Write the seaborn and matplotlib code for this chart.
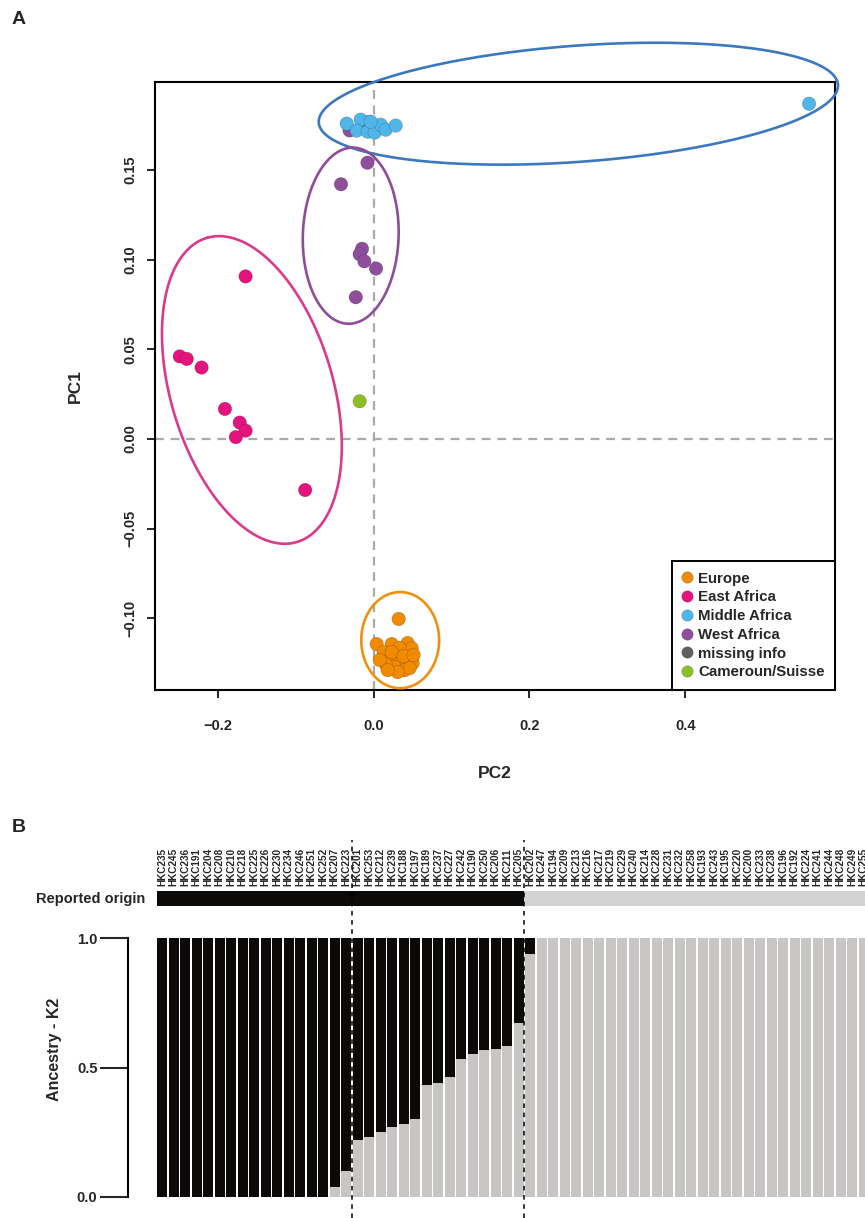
import numpy as np
import pandas as pd
import matplotlib
matplotlib.use("Agg")
import matplotlib.pyplot as plt
import seaborn as sns

# ---------------- data : panel A (PCA) ----------------
groups = ["Europe", "East Africa", "Middle Africa", "West Africa", "missing info", "Cameroun/Suisse"]
group_colors = ["#F08A00", "#E5137D", "#50B5E9", "#8E4E9C", "#5F5F5F", "#8CBF26"]

europe_pc2 = [0.0321, 0.0038, 0.0231, 0.0436, 0.0128, 0.0205, 0.0295, 0.0359, 0.0449, 0.0487,
              0.0269, 0.0154, 0.0397, 0.0500, 0.0333, 0.0231, 0.0077, 0.0462, 0.0308, 0.0179,
              0.0385, 0.0513]
europe_pc1 = [-0.1004, -0.1144, -0.1144, -0.1138, -0.1189, -0.1233, -0.1200, -0.1244, -0.1205, -0.1166,
              -0.1272, -0.1256, -0.1289, -0.1250, -0.1166, -0.1189, -0.1233, -0.1278, -0.1300, -0.1289,
              -0.1211, -0.1205]
east_pc2 = [-0.1645, -0.249, -0.240, -0.221, -0.191, -0.172, -0.1645, -0.177, -0.088]
east_pc1 = [0.0906, 0.046, 0.0446, 0.0398, 0.0167, 0.0091, 0.0046, 0.001, -0.0285]
middle_pc2 = [-0.0346, -0.0167, -0.0218, -0.0077, 0.0013, 0.0090, -0.0038, 0.0154, 0.0282, 0.559]
middle_pc1 = [0.1758, 0.1780, 0.1719, 0.1713, 0.1708, 0.1752, 0.1769, 0.1724, 0.1747, 0.1869]
west_pc2 = [-0.031, -0.008, -0.042, -0.015, -0.018, -0.012, 0.003, -0.023]
west_pc1 = [0.172, 0.154, 0.142, 0.106, 0.103, 0.099, 0.095, 0.079]
missing_pc2 = [-0.008]
missing_pc1 = [0.1765]
cameroun_pc2 = [-0.018]
cameroun_pc1 = [0.021]

# ellipses: centre, first and second half-axis vectors (data units)
ellipse_groups = ["Middle Africa", "West Africa", "East Africa", "Europe"]
ellipse_colors = ["#3B78BF", "#8F4C9C", "#DA3A8C", "#F0900F"]
ellipse_center = [(0.2628, 0.1869), (-0.0295, 0.1133), (-0.1564, 0.0273), (0.034, -0.1122)]
ellipse_axis1 = [(0.3333, 0.0106), (0.0026, 0.0491), (-0.0577, 0.0848), (0.050, 0.0)]
ellipse_axis2 = [(0.0054, -0.0323), (0.0615, 0.0), (0.100, 0.0128), (0.0, 0.0268)]

pc2_ticks = [-0.2, 0.0, 0.2, 0.4]
pc1_ticks = [-0.10, -0.05, 0.00, 0.05, 0.10, 0.15]

# ---------------- data : panel B (ancestry) ----------------
sample_ids = ["HKC235", "HKC245", "HKC236", "HKC191", "HKC204", "HKC208", "HKC210", "HKC218",
              "HKC225", "HKC226", "HKC230", "HKC234", "HKC246", "HKC251", "HKC252", "HKC207",
              "HKC223", "HKC201", "HKC253", "HKC212", "HKC239", "HKC188", "HKC197", "HKC189",
              "HKC237", "HKC227", "HKC242", "HKC190", "HKC250", "HKC206", "HKC211", "HKC205",
              "HKC202", "HKC247", "HKC194", "HKC209", "HKC213", "HKC216", "HKC217", "HKC219",
              "HKC229", "HKC240", "HKC214", "HKC228", "HKC231", "HKC232", "HKC258", "HKC193",
              "HKC243", "HKC195", "HKC220", "HKC200", "HKC233", "HKC238", "HKC196", "HKC192",
              "HKC224", "HKC241", "HKC244", "HKC248", "HKC249", "HKC255"]
reported_origin = ["Africa"] * 32 + ["Europe"] * 30
ancestry_grey = [0.0] * 15 + [0.04, 0.10, 0.222, 0.232, 0.25, 0.272, 0.283, 0.303, 0.432, 0.44,
                              0.464, 0.531, 0.553, 0.568, 0.572, 0.583, 0.672, 0.937] + [1.0] * 29
ancestry_ticks = [0.0, 0.5, 1.0]
divider_positions = [16.5, 31.5]

BLACK = "#0B0A07"
GREY = "#C8C5C4"
STRIP_GREY = "#D4D3D3"

# ---------------- style ----------------
sns.set_style("white")
plt.rcParams["font.family"] = ["Liberation Sans", "DejaVu Sans"]
plt.rcParams["font.weight"] = "bold"
plt.rcParams["axes.labelweight"] = "bold"

W, H = 865, 1218
fig = plt.figure(figsize=(W / 100, H / 100), dpi=100)


def box(l, t, r, b):
    return [l / W, 1 - b / H, (r - l) / W, (b - t) / H]


# ================= Panel A =================
ax = fig.add_axes(box(155, 82, 835, 690))
rows = []
order_plot = [("missing info", missing_pc2, missing_pc1), ("West Africa", west_pc2, west_pc1),
              ("East Africa", east_pc2, east_pc1), ("Cameroun/Suisse", cameroun_pc2, cameroun_pc1),
              ("Middle Africa", middle_pc2, middle_pc1), ("Europe", europe_pc2, europe_pc1)]
for g, xs, ys in order_plot:
    for x, y in zip(xs, ys):
        rows.append({"PC2": x, "PC1": y, "origin": g})
df = pd.DataFrame(rows)

ax.axhline(0, color="#AAAAAA", lw=1.6, ls=(0, (4, 3)), zorder=1)
ax.axvline(0, color="#AAAAAA", lw=1.6, ls=(0, (4, 3)), zorder=1)

sns.scatterplot(data=df, x="PC2", y="PC1", hue="origin", hue_order=groups,
                palette=dict(zip(groups, group_colors)), s=95, linewidth=0.4,
                edgecolor=(0, 0, 0, 0.25), ax=ax, zorder=3)

t = np.linspace(0, 2 * np.pi, 400)
for c, a1, a2, col in zip(ellipse_center, ellipse_axis1, ellipse_axis2, ellipse_colors):
    ex = c[0] + a1[0] * np.cos(t) + a2[0] * np.sin(t)
    ey = c[1] + a1[1] * np.cos(t) + a2[1] * np.sin(t)
    ax.plot(ex, ey, color=col, lw=1.9, clip_on=False, zorder=4)

ax.set_xlim(-0.2808, 0.5923)
ax.set_ylim(-0.140, 0.199)
ax.set_xticks(pc2_ticks)
ax.set_xticklabels([f"{v:.1f}".replace("-", "\u2212") for v in pc2_ticks])
ax.set_yticks(pc1_ticks)
ax.set_yticklabels([f"{v:.2f}".replace("-", "\u2212") for v in pc1_ticks],
                   rotation=90, va="center")
ax.tick_params(axis="x", bottom=True, length=6, width=1.4, pad=15, labelsize=10.5)
ax.tick_params(axis="y", left=True, length=6, width=1.4, pad=7, labelsize=10.5)
for sp in ax.spines.values():
    sp.set_linewidth(1.5)
    sp.set_color("black")
ax.set_xlabel("PC2", fontsize=12.5)
ax.set_ylabel("PC1", fontsize=12.5)
ax.xaxis.set_label_coords(0.5, (690 - 773) / 608)
ax.xaxis.label.set_va("center")
ax.yaxis.set_label_coords((75 - 155) / 680, 0.5)
ax.yaxis.label.set_va("center")

handles, labels = ax.get_legend_handles_labels()
leg = ax.legend(handles, labels, loc="lower right", bbox_to_anchor=(1, 0), borderaxespad=0,
                frameon=True, fancybox=False, edgecolor="black", framealpha=1,
                fontsize=10.8, handlelength=0.6, handletextpad=0.45, labelspacing=0.32,
                borderpad=0.7, markerscale=0.85)
leg.get_frame().set_linewidth(1.4)

fig.text(12 / W, 1 - 20 / H, "A", fontsize=14, fontweight="bold", va="center", ha="left")

# ================= Panel B =================
pitch = 11.5
x_left = -0.435
x_right = 62.5
right_px = 157 + (x_right - x_left) * pitch
axw = right_px - 157

bdf = pd.DataFrame({"id": sample_ids, "origin": reported_origin, "grey": ancestry_grey,
                    "total": [1.0] * len(sample_ids)})

# reported origin strip
axs = fig.add_axes(box(157, 891, right_px, 906))
sns.barplot(data=bdf, x="id", y="total", hue="origin",
            palette={"Africa": BLACK, "Europe": STRIP_GREY}, width=1.0, dodge=False,
            errorbar=None, linewidth=0, legend=False, ax=axs)
axs.set_xlim(x_left, x_right)
axs.set_ylim(0, 1)
axs.set_yticks([])
for sp in axs.spines.values():
    sp.set_visible(False)
axs.xaxis.tick_top()
axs.set_xticks(range(len(sample_ids)))
axs.set_xticklabels(sample_ids, rotation=90, fontsize=7.2, fontweight="bold")
axs.tick_params(axis="x", top=True, bottom=False, length=0, pad=3.5)
axs.set_xlabel("")
axs.set_ylabel("Reported origin", rotation=0, ha="right", va="center", fontsize=10.5)
axs.yaxis.set_label_coords((145 - 157) / axw, 0.5)

# ancestry bars
axb = fig.add_axes(box(157, 938, right_px, 1197))
sns.barplot(data=bdf, x="id", y="total", color=BLACK, width=0.87, errorbar=None,
            linewidth=0, ax=axb)
sns.barplot(data=bdf, x="id", y="grey", color=GREY, width=0.87, errorbar=None,
            linewidth=0, ax=axb)
axb.set_xlim(x_left, x_right)
axb.set_ylim(0, 1)
axb.set_xticks([])
axb.set_xlabel("")
for k in ["top", "right", "bottom"]:
    axb.spines[k].set_visible(False)
axb.spines["left"].set_position(("outward", (157 - 128) * 0.72))
axb.spines["left"].set_bounds(0, 1)
axb.spines["left"].set_linewidth(1.5)
axb.spines["left"].set_color("black")
axb.set_yticks(ancestry_ticks)
axb.set_yticklabels([f"{v:.1f}" for v in ancestry_ticks])
axb.tick_params(axis="y", left=True, length=20, width=1.5, pad=2, labelsize=10.5)
axb.set_ylabel("Ancestry - K2", fontsize=11.5)
axb.yaxis.set_label_coords((55 - 157) / axw, 0.57)
axb.yaxis.label.set_va("center")

for xp in divider_positions:
    axb.axvline(xp, ymin=(1197 - 1218) / 259, ymax=(1197 - 840) / 259, clip_on=False,
                color="black", lw=1.1, ls=(0, (3, 3)), zorder=5)

fig.text(12 / W, 1 - 828 / H, "B", fontsize=14, fontweight="bold", va="center", ha="left")

fig.savefig("out.png", dpi=100)
